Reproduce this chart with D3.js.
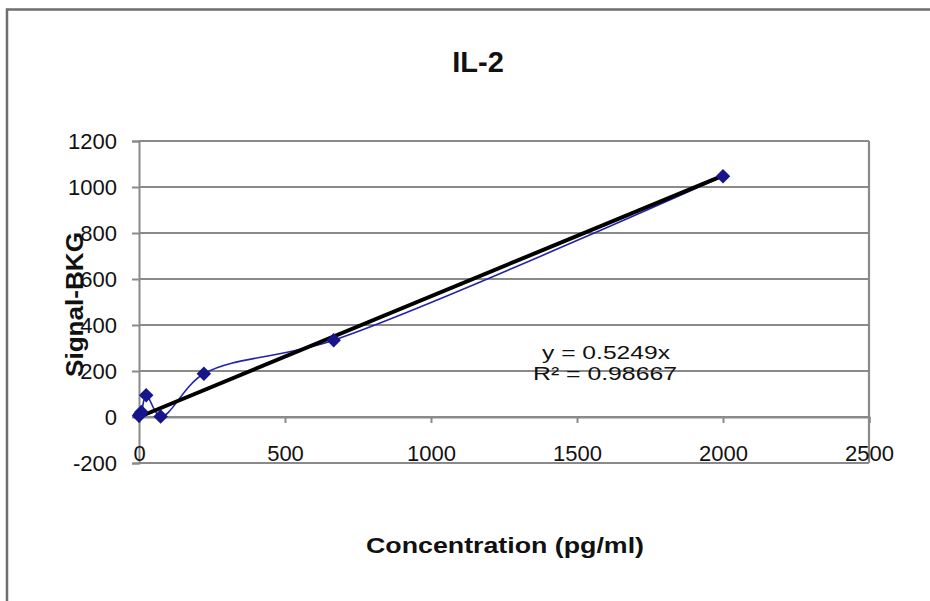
<!DOCTYPE html>
<html><head><meta charset="utf-8">
<script src="https://cdn.jsdelivr.net/npm/d3@7"></script>
<style>body{margin:0;background:#fff}svg{display:block;font-family:"Liberation Sans",Arial,sans-serif}</style>
</head><body>
<svg id="c" width="930" height="601"></svg>
<script>
const title = "IL-2";
const xTitle = "Concentration (pg/ml)";
const yTitle = "Signal-BKG";
const concentration = [0, 2.74, 8.23, 24.7, 74.1, 222.2, 666.7, 2000];
const signal = [5, 12, 22, 95, 2, 188, 334, 1047];
const xTicks = [0, 500, 1000, 1500, 2000, 2500];
const yTicks = [-200, 0, 200, 400, 600, 800, 1000, 1200];
const slope = 0.5249;
const eqLines = ["y = 0.5249x", "R\u00B2 = 0.98667"];

const svg = d3.select("#c");
const x = d3.scaleLinear().domain([0, 2500]).range([139, 869]);
const y = d3.scaleLinear().domain([-200, 1200]).range([463, 141]);
const grid = "#8a8a8a";
const fmt = d => String(d);

// outer border
svg.append("path").attr("d", "M7,601 V9.5 H930").attr("fill", "none").attr("stroke", "#6e6e6e").attr("stroke-width", 2.5);

// y axis + ticks
const yAxis = d3.axisLeft(y).tickValues(yTicks).tickSize(7).tickPadding(15).tickFormat(fmt);
const gy = svg.append("g").attr("transform", `translate(${x(0)},0)`).call(yAxis);
gy.select(".domain").attr("stroke", grid).attr("stroke-width", 2);
gy.selectAll(".tick line").attr("stroke", grid).attr("stroke-width", 2);
gy.selectAll(".tick text").attr("font-size", 22).attr("fill", "#111").attr("font-family", "Liberation Sans, Arial");
// gridlines
svg.append("g").selectAll("line").data(yTicks).join("line")
  .attr("x1", x(0)).attr("x2", x(2500)).attr("y1", d => y(d)).attr("y2", d => y(d))
  .attr("stroke", grid).attr("stroke-width", 2.2);
// right border
svg.append("line").attr("x1", x(2500)).attr("x2", x(2500)).attr("y1", y(1200)).attr("y2", y(-200)).attr("stroke", grid).attr("stroke-width", 2.2);

// x axis at y=0
const xAxis = d3.axisBottom(x).tickValues(xTicks).tickSize(6).tickPadding(22).tickFormat(fmt);
const gx = svg.append("g").attr("transform", `translate(0,${y(0)})`).call(xAxis);
gx.select(".domain").attr("stroke", grid).attr("stroke-width", 2.2);
gx.selectAll(".tick line").attr("stroke", grid).attr("stroke-width", 2);
gx.selectAll(".tick text").attr("font-size", 22).attr("fill", "#111").attr("font-family", "Liberation Sans, Arial");

// smoothed series line
const pts = concentration.map((c, i) => [c, signal[i]]);
svg.append("path").datum(pts)
  .attr("d", d3.line().x(d => x(d[0])).y(d => y(d[1])).curve(d3.curveCatmullRom.alpha(0.5)))
  .attr("fill", "none").attr("stroke", "#2323a8").attr("stroke-width", 1.6);

// trendline
const tr = [0, d3.max(concentration)];
svg.append("line").attr("x1", x(tr[0])).attr("y1", y(slope * tr[0])).attr("x2", x(tr[1])).attr("y2", y(slope * tr[1]))
  .attr("stroke", "#000").attr("stroke-width", 4);

// markers
svg.append("g").selectAll("path").data(pts).join("path")
  .attr("transform", d => `translate(${x(d[0])},${y(d[1])}) rotate(45)`)
  .attr("d", d3.symbol(d3.symbolSquare, 105)())
  .attr("fill", "#16168a");

// equation
svg.append("text").attr("x", 542).attr("y", 359).attr("font-size", 19).attr("textLength", 128).attr("lengthAdjust", "spacingAndGlyphs").attr("fill", "#111").text(eqLines[0]);
svg.append("text").attr("x", 533).attr("y", 380).attr("font-size", 19).attr("textLength", 144).attr("lengthAdjust", "spacingAndGlyphs").attr("fill", "#111").text(eqLines[1]);

// titles
svg.append("text").attr("x", 478).attr("y", 72).attr("text-anchor", "middle").attr("font-size", 29).attr("font-weight", "bold").attr("fill", "#111").text(title);
svg.append("text").attr("x", 366).attr("y", 553).attr("font-size", 22).attr("font-weight", "bold").attr("textLength", 278).attr("lengthAdjust", "spacingAndGlyphs").attr("fill", "#111").text(xTitle);
svg.append("text").attr("transform", "translate(83,377) rotate(-90)").attr("font-size", 24).attr("font-weight", "bold").attr("textLength", 145).attr("lengthAdjust", "spacingAndGlyphs").attr("fill", "#111").text(yTitle);
</script>
</body></html>
